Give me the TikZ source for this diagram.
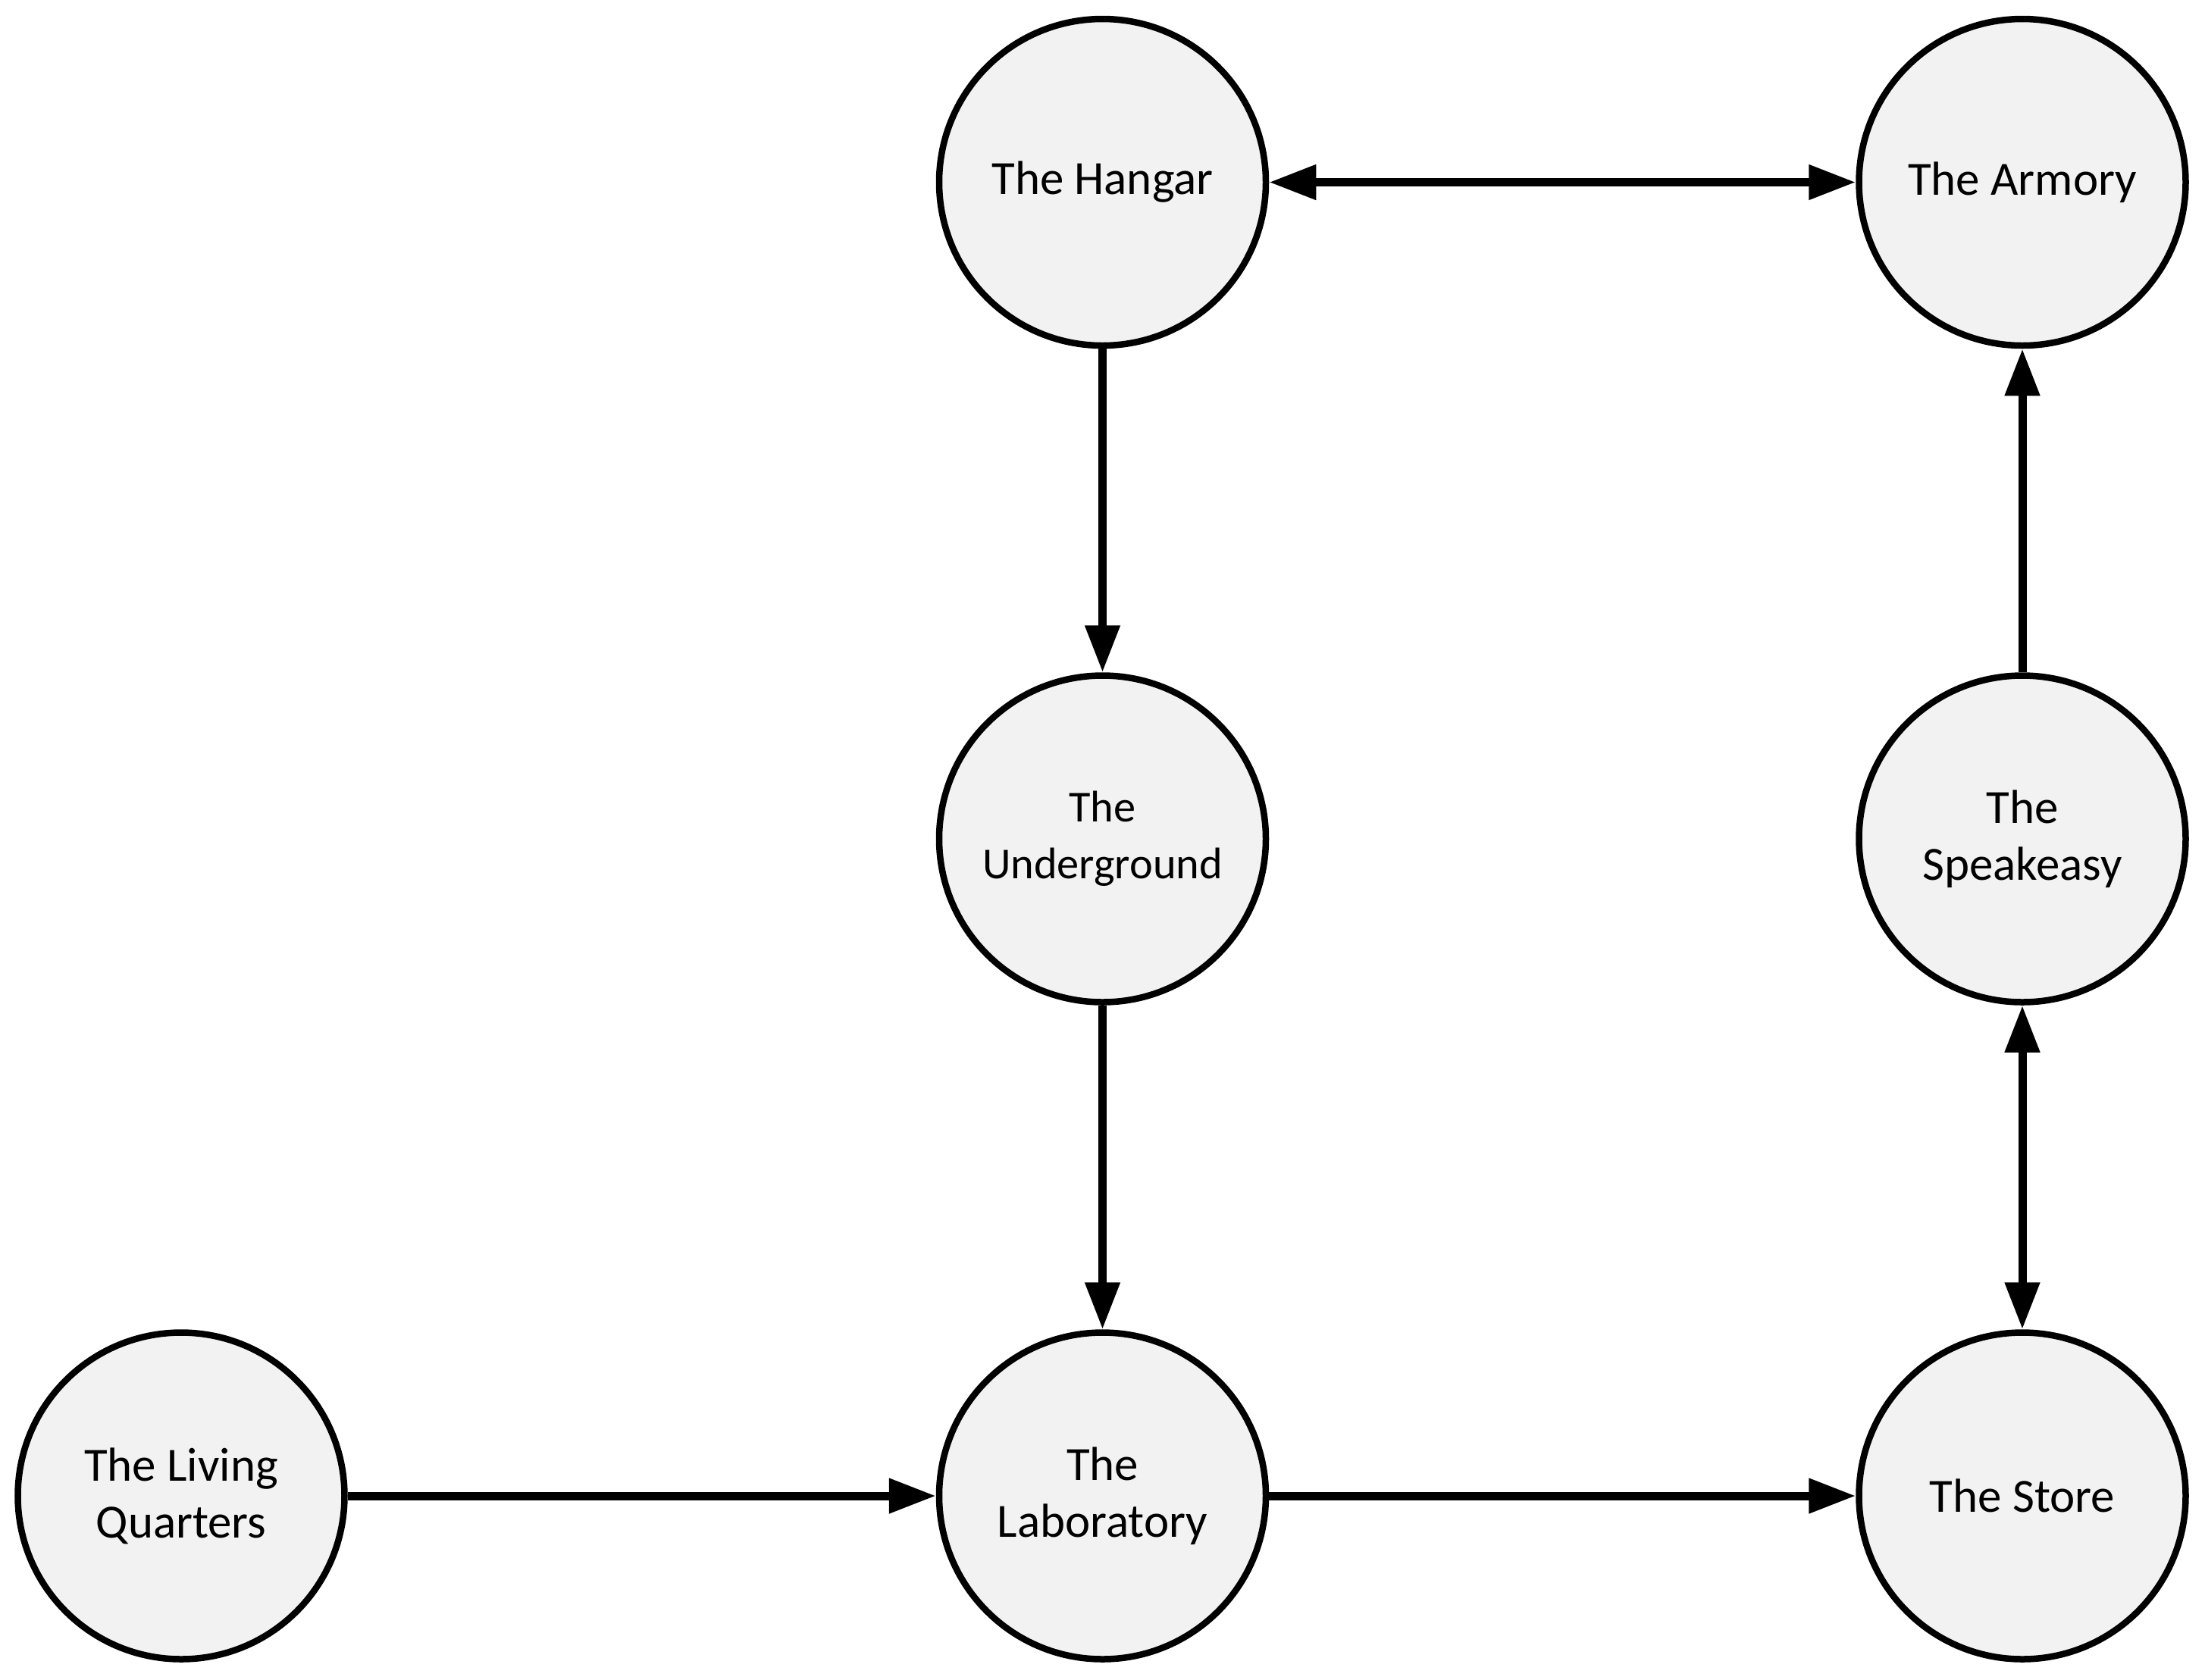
\documentclass[tikz,border=0pt]{standalone}
\usepackage{fontspec}
\setmainfont{Carlito}
\usetikzlibrary{arrows.meta}
\definecolor{roomfill}{HTML}{F2F2F2}
\tikzset{
  room/.style={circle, draw=black, line width=0.085cm, fill=roomfill,
    minimum size=4.31cm, inner sep=0pt, align=center,
    font=\fontsize{17.9pt}{21.4pt}\selectfont},
  smalltext/.style={font=\fontsize{16.6pt}{21.4pt}\selectfont},
  link/.style={line width=0.11cm, -{Triangle[length=0.62cm,width=0.44cm]}},
  twoway/.style={line width=0.11cm,
    {Triangle[length=0.62cm,width=0.44cm]}-{Triangle[length=0.62cm,width=0.44cm]}}
}
\begin{document}
\begin{tikzpicture}[x=1cm,y=-1cm]
\useasboundingbox[fill=white] (0,0) rectangle (29.09,22.16);
\node[room] (hangar) at (14.545,2.405) {The Hangar};
\node[room] (armory) at (26.68,2.405) {The Armory};
\node[room,smalltext] (under) at (14.545,11.07) {The\\Underground};
\node[room] (speak) at (26.68,11.07) {The\\Speakeasy};
\node[room] (living) at (2.39,19.74) {The Living\\Quarters};
\node[room] (lab) at (14.545,19.74) {The\\Laboratory};
\node[room] (store) at (26.68,19.74) {The Store};
\draw[twoway] (hangar) -- (armory);
\draw[link] (hangar) -- (under);
\draw[link] (under) -- (lab);
\draw[link] (living) -- (lab);
\draw[link] (lab) -- (store);
\draw[link] (speak) -- (armory);
\draw[twoway] (speak) -- (store);
\end{tikzpicture}
\end{document}
